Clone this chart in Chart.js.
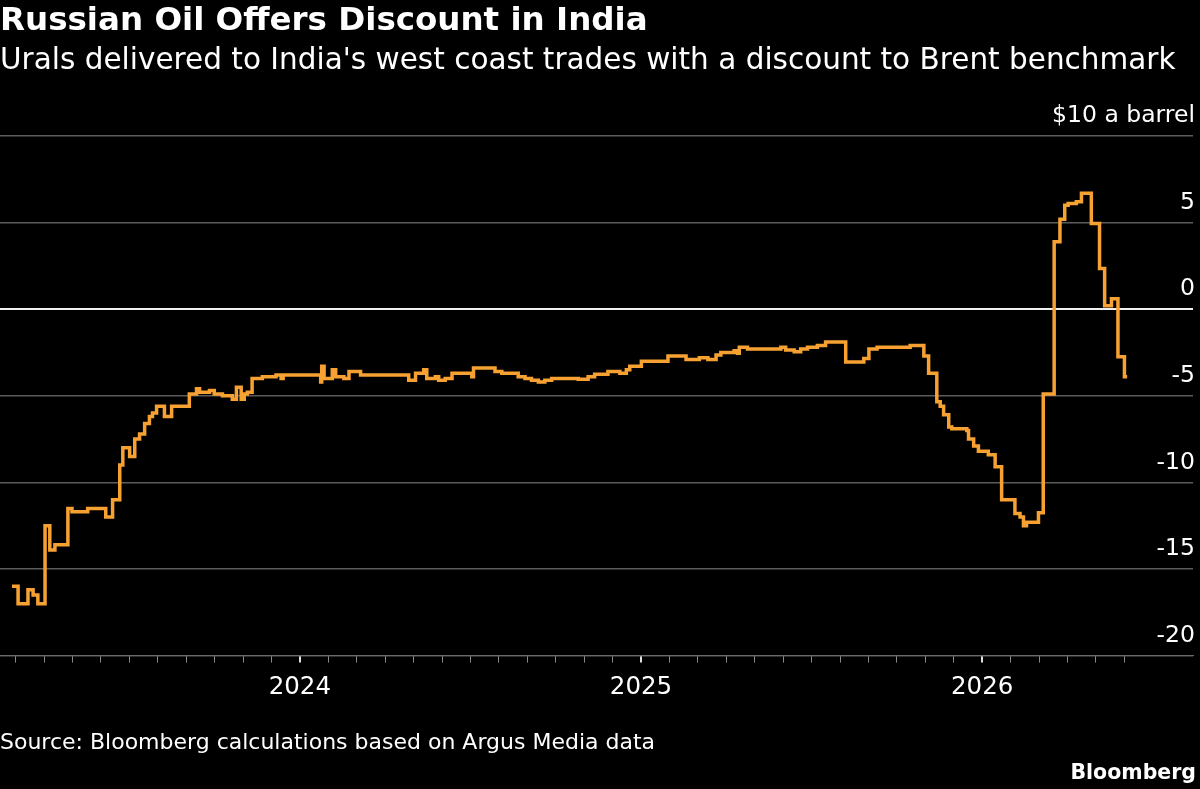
<!DOCTYPE html>
<html>
<head>
<meta charset="utf-8">
<script src="https://cdn.jsdelivr.net/npm/chart.js@4"></script>
<style>
  html, body { margin:0; padding:0; background:#000; }
  #wrap { position:relative; width:1200px; height:789px; overflow:hidden; background:#000;
          font-family:"DejaVu Sans",sans-serif; color:#fff; }
  #chart { position:absolute; left:0; top:0; }
  .txt { position:absolute; white-space:nowrap; line-height:1; }
  #title { left:0; top:3px; font-size:32.5px; font-weight:bold; }
  #subtitle { left:0; top:45px; font-size:29.5px; }
  #source { left:0; top:731px; font-size:22px; }
  #brand { right:4px; top:762px; font-size:20.5px; font-weight:bold; }
</style>
</head>
<body>
<div id="wrap">
  <canvas id="chart" width="1200" height="789"></canvas>
  <div class="txt" id="title">Russian Oil Offers Discount in India</div>
  <div class="txt" id="subtitle">Urals delivered to India's west coast trades with a discount to Brent benchmark</div>
  <div class="txt" id="source">Source: Bloomberg calculations based on Argus Media data</div>
  <div class="txt" id="brand">Bloomberg</div>
</div>
<script>
/* =======================
   DATA
   x = decimal year, y = Urals discount to Brent, $/bbl
======================= */
const years = [
  2023.156, 2023.174, 2023.203, 2023.218, 2023.232, 2023.253, 2023.267, 2023.282,
  2023.320, 2023.332, 2023.378, 2023.431, 2023.451, 2023.472, 2023.481, 2023.501,
  2023.516, 2023.530, 2023.545, 2023.559, 2023.568, 2023.580, 2023.603, 2023.624,
  2023.676, 2023.697, 2023.706, 2023.735, 2023.749, 2023.773, 2023.802, 2023.814,
  2023.828, 2023.837, 2023.846, 2023.860, 2023.890, 2023.930, 2023.945, 2023.951,
  2024.061, 2024.064, 2024.071, 2024.095, 2024.105, 2024.129, 2024.144, 2024.178,
  2024.319, 2024.339, 2024.363, 2024.372, 2024.397, 2024.407, 2024.426, 2024.446,
  2024.504, 2024.509, 2024.572, 2024.592, 2024.640, 2024.660, 2024.679, 2024.699,
  2024.718, 2024.738, 2024.816, 2024.845, 2024.864, 2024.903, 2024.938, 2024.957,
  2024.967, 2025.001, 2025.079, 2025.132, 2025.171, 2025.196, 2025.220, 2025.234,
  2025.273, 2025.283, 2025.288, 2025.312, 2025.410, 2025.424, 2025.449, 2025.468,
  2025.488, 2025.517, 2025.541, 2025.600, 2025.653, 2025.668, 2025.692, 2025.789,
  2025.829, 2025.843, 2025.867, 2025.877, 2025.887, 2025.902, 2025.911, 2025.955,
  2025.960, 2025.975, 2025.989, 2026.018, 2026.038, 2026.057, 2026.096, 2026.111,
  2026.121, 2026.130, 2026.165, 2026.179, 2026.211, 2026.228, 2026.242, 2026.252,
  2026.276, 2026.291, 2026.320, 2026.344, 2026.359, 2026.379, 2026.398, 2026.417,
  2026.425
];
const discount = [
  -16.0, -17.0, -16.2, -16.5, -17.0, -12.5, -13.9, -13.6,
  -11.5, -11.7, -11.5, -12.0, -11.0, -9.0, -8.0, -8.5,
  -7.5, -7.2, -6.6, -6.2, -6.0, -5.6, -6.2, -5.6,
  -4.9, -4.6, -4.8, -4.7, -4.9, -5.0, -5.2, -4.5,
  -5.2, -4.9, -4.8, -4.0, -3.9, -3.8, -4.0, -3.8,
  -4.2, -3.3, -4.0, -3.5, -3.9, -4.0, -3.6, -3.8,
  -4.1, -3.7, -3.5, -4.0, -3.9, -4.1, -4.0, -3.7,
  -3.9, -3.4, -3.6, -3.7, -3.9, -4.0, -4.1, -4.2,
  -4.1, -4.0, -4.05, -3.9, -3.75, -3.6, -3.7, -3.5,
  -3.3, -3.0, -2.7, -2.9, -2.8, -2.9, -2.65, -2.5,
  -2.4, -2.55, -2.2, -2.3, -2.2, -2.35, -2.45, -2.3,
  -2.2, -2.1, -1.9, -3.05, -2.85, -2.3, -2.2, -2.1,
  -2.7, -3.7, -5.35, -5.6, -6.1, -6.8, -6.9, -7.0,
  -7.5, -7.9, -8.2, -8.4, -9.1, -11.0, -11.8, -12.0,
  -12.5, -12.3, -11.75, -4.9, 3.9, 5.2, 6.0, 6.1,
  6.2, 6.7, 4.95, 2.35, 0.2, 0.6, -2.75, -3.9,
  -3.9
];
const yTicks = [-20, -15, -10, -5, 0, 5, 10];
const xRange = [2023.121, 2026.618];
const firstMonthTick = 2023 + 2/12;   // Mar 2023
const lastMonthTick = 2026 + 5/12;    // Jun 2026

const FONT = '"DejaVu Sans", sans-serif';

const points = years.map((x, i) => ({ x: x, y: discount[i] }));

const isYear = v => Math.abs(v - Math.round(v)) < 1e-6;

new Chart(document.getElementById('chart'), {
  type: 'line',
  data: {
    datasets: [{
      data: points,
      borderColor: '#f7a133',
      borderWidth: 3.5,
      pointRadius: 0,
      stepped: true,
      borderJoinStyle: 'miter'
    }]
  },
  options: {
    responsive: false,
    animation: false,
    layout: { padding: { top: 136, right: 3, left: 0, bottom: 77 } },
    plugins: { legend: { display: false }, tooltip: { enabled: false } },
    scales: {
      x: {
        type: 'linear',
        min: xRange[0],
        max: xRange[1],
        afterBuildTicks: axis => {
          const t = [];
          for (let m = Math.round(firstMonthTick*12); m <= Math.round(lastMonthTick*12); m++) {
            t.push({ value: m / 12 });
          }
          axis.ticks = t;
        },
        border: { display: true, color: '#6a6a6a', width: 1 },
        grid: {
          drawOnChartArea: false,
          drawTicks: true,
          tickLength: 7,
          color: c => (c.tick && isYear(c.tick.value)) ? '#e0e0e0' : '#8a8a8a',
          lineWidth: c => (c.tick && isYear(c.tick.value)) ? 2 : 1
        },
        ticks: {
          autoSkip: false,
          maxRotation: 0,
          padding: 10,
          color: '#ffffff',
          font: { family: FONT, size: 24.5 },
          callback: v => isYear(v) ? String(Math.round(v)) : ''
        }
      },
      y: {
        position: 'right',
        min: -20,
        max: 10,
        afterBuildTicks: axis => { axis.ticks = yTicks.map(v => ({ value: v })); },
        border: { display: false },
        grid: {
          drawTicks: false,
          color: c => (c.tick && c.tick.value === 0) ? '#f0f0f0' : '#5c5c5c',
          lineWidth: c => (c.tick && c.tick.value === 0) ? 2 : 1.5
        },
        ticks: {
          mirror: true,
          padding: 2,
          labelOffset: -20,
          color: '#ffffff',
          font: { family: FONT, size: 23.5 },
          callback: v => v === 10 ? '$10 a barrel' : String(v)
        }
      }
    }
  }
});
</script>
</body>
</html>
